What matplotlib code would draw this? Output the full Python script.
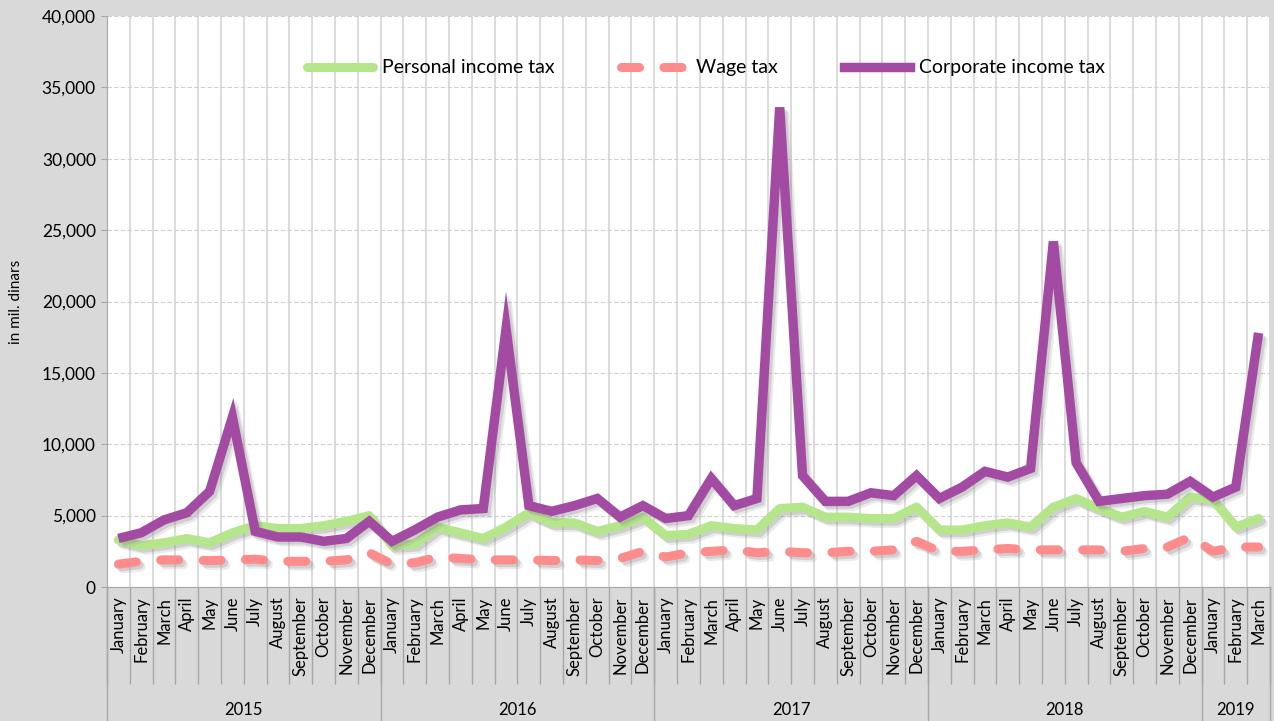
import numpy as np
import matplotlib
matplotlib.use("Agg")
import matplotlib.pyplot as plt
import matplotlib.patheffects as pe
from matplotlib.lines import Line2D
from matplotlib.transforms import blended_transform_factory

plt.rcParams['font.family'] = ['Lato', 'DejaVu Sans']

# month names and years for the two-level category axis
months = ["January", "February", "March", "April", "May", "June", "July",
          "August", "September", "October", "November", "December"]
years = [2015, 2016, 2017, 2018, 2019]
months_per_year = [12, 12, 12, 12, 3]

# monthly revenue, in mil. dinars
personal_income_tax = [3300, 2900, 3100, 3400, 3100, 3800, 4300, 4100, 4100, 4300, 4600, 5000,
                       2900, 3000, 4200, 3800, 3400, 4200, 5200, 4500, 4500, 3900, 4300, 4900,
                       3600, 3700, 4300, 4100, 4000, 5500, 5600, 4900, 4900, 4800, 4800, 5600,
                       4000, 4000, 4300, 4500, 4200, 5600, 6200, 5500, 4900, 5300, 4900, 6300,
                       6100, 4200, 4800]
wage_tax = [1600, 1800, 1900, 1900, 1850, 1900, 1950, 1800, 1800, 1800, 1900, 2400,
            1600, 1700, 2100, 2000, 1900, 1900, 1900, 1850, 1900, 1850, 2000, 2500,
            2100, 2400, 2500, 2600, 2400, 2500, 2400, 2400, 2500, 2500, 2600, 3200,
            2500, 2500, 2600, 2700, 2600, 2600, 2600, 2600, 2500, 2700, 2800, 3500,
            2500, 2800, 2800]
corporate_income_tax = [3400, 3800, 4700, 5200, 6700, 11900, 3900, 3500, 3500, 3200, 3400, 4600,
                        3200, 4000, 4900, 5400, 5500, 18100, 5700, 5300, 5700, 6200, 4900, 5700,
                        4800, 5000, 7600, 5700, 6200, 33600, 7800, 6000, 6000, 6600, 6400, 7800,
                        6200, 7000, 8100, 7700, 8300, 24200, 8700, 6000, 6200, 6400, 6500, 7400,
                        6300, 7000, 17800]

month_labels = []
for y, n in zip(years, months_per_year):
    month_labels += months[:n]
x = np.arange(len(month_labels))

fig = plt.figure(figsize=(12.74, 7.21), dpi=100, facecolor="#d9d9d9")
ax = fig.add_axes([107/1274, 1-587/721, (1270-107)/1274, (587-16)/721])
ax.set_facecolor("white")

# soft shadow: two offset layers
shadow = [pe.SimpleLineShadow(offset=(3.5, -3.5), shadow_color="#909090", alpha=0.18),
          pe.SimpleLineShadow(offset=(2, -2), shadow_color="#808080", alpha=0.25),
          pe.Normal()]

green = "#b5e68c"
salmon = "#ff8c8c"
purple = "#a34ba3"

ax.plot(x, personal_income_tax, color=green, lw=6.5, solid_joinstyle="round",
        solid_capstyle="round", path_effects=shadow, zorder=3)
ax.plot(x, wage_tax, color=salmon, lw=6.5, dashes=(2.0, 2.7), dash_capstyle="round",
        dash_joinstyle="round", path_effects=shadow, zorder=3)
ax.plot(x, corporate_income_tax, color=purple, lw=6.8, solid_joinstyle="miter",
        solid_capstyle="butt", path_effects=shadow, zorder=4)

ax.set_xlim(-0.5, len(x) - 0.5)
ax.set_ylim(0, 40000)
ax.set_yticks(np.arange(0, 40001, 5000))
ax.set_yticklabels([f"{v:,}" for v in range(0, 40001, 5000)], fontsize=12.5)
ax.yaxis.grid(True, color="#d0d0d0", linestyle=(0, (4, 2)), lw=0.8)
ax.set_ylabel("in mil. dinars", fontsize=11)
ax.yaxis.set_label_coords(-0.072, 0.5)

# month labels on major ticks, boundaries on minor ticks
ax.set_xticks(x)
ax.set_xticklabels(month_labels, rotation=90, fontsize=12, va="top")
ax.tick_params(axis="x", which="major", length=0, pad=7)
ax.set_xticks(np.arange(-0.5, len(x) + 0.5, 1), minor=True)
ax.tick_params(axis="x", which="minor", length=70, width=1, color="#a6a6a6", direction="out")
ax.xaxis.grid(True, which="minor", color="#d9d9d9", lw=1.3)
ax.tick_params(axis="y", length=4, color="#a6a6a6", pad=4)

for s in ["top", "right"]:
    ax.spines[s].set_visible(False)
ax.spines["left"].set_color("#a6a6a6")
ax.spines["bottom"].set_color("#a6a6a6")

# year row
trans = blended_transform_factory(ax.transData, ax.transAxes)
start = 0
bounds = [start - 0.5]
for yr, n in zip(years, months_per_year):
    ax.text(start + n / 2 - 0.5, -0.215, str(yr), transform=trans, ha="center", va="center",
            fontsize=12)
    start += n
    bounds.append(start - 0.5)
for b in bounds:
    ax.plot([b, b], [0, -0.25], transform=trans, color="#a6a6a6", lw=1, clip_on=False)

handles = [Line2D([], [], color=green, lw=6.5, solid_capstyle="round"),
           Line2D([], [], color=salmon, lw=6.5, dashes=(2.0, 2.7), dash_capstyle="round"),
           Line2D([], [], color=purple, lw=6.8)]
ax.legend(handles, ["Personal income tax", "Wage tax", "Corporate income tax"],
          loc="center", bbox_to_anchor=(0.515, 0.909), ncol=3, frameon=False, fontsize=14,
          handlelength=3.4, handletextpad=0.45, columnspacing=3.4)

fig.savefig("out.png", dpi=100, facecolor=fig.get_facecolor())
